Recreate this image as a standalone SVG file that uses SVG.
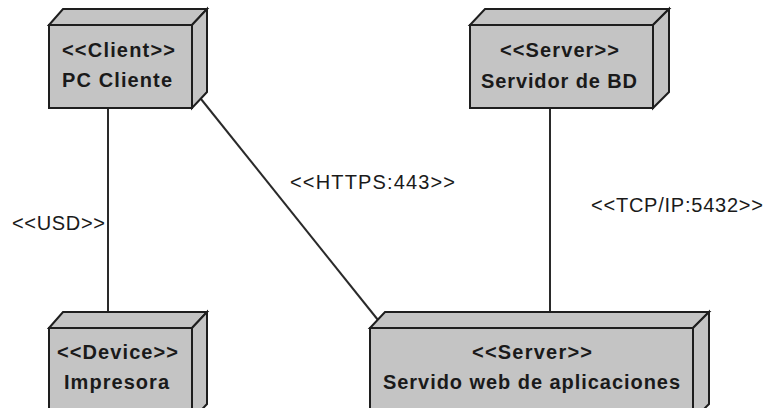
<svg xmlns="http://www.w3.org/2000/svg" width="767" height="408" viewBox="0 0 767 408">
<style>
.face{fill:#c4c4c4;stroke:#1e1e1e;stroke-width:2;stroke-linejoin:miter}
.nt{font-family:"Liberation Sans",Arial,sans-serif;font-weight:bold;font-size:20px;fill:#1a1a1a}
.lb{font-family:"Liberation Sans",Arial,sans-serif;font-size:20px;fill:#1a1a1a}
.cn{stroke:#2a2a2a;stroke-width:2;fill:none}
</style>
<rect width="767" height="408" fill="#ffffff"/>
<g id="connectors">
<line class="cn" x1="108" y1="108" x2="108" y2="312"/>
<line class="cn" x1="201" y1="99" x2="378" y2="320"/>
<line class="cn" x1="550" y1="108" x2="550" y2="312"/>
<text class="lb" x="290" y="189" textLength="165" lengthAdjust="spacing">&lt;&lt;HTTPS:443&gt;&gt;</text>
<text class="lb" x="12" y="230" textLength="93" lengthAdjust="spacing">&lt;&lt;USD&gt;&gt;</text>
<text class="lb" x="591" y="212" textLength="172" lengthAdjust="spacing">&lt;&lt;TCP/IP:5432&gt;&gt;</text>
</g>
<g id="pc-cliente">
<polygon class="face" points="49,25 63,9 207,9 192,25"/>
<polygon class="face" points="192,25 207,9 207,92 192,108"/>
<rect class="face" x="49" y="25" width="143" height="83"/>
<text class="nt" x="62" y="57" textLength="113" lengthAdjust="spacing">&lt;&lt;Client&gt;&gt;</text>
<text class="nt" x="62" y="87" textLength="110" lengthAdjust="spacing">PC Cliente</text>
</g>
<g id="servidor-bd">
<polygon class="face" points="470,25 485,9 669,9 653,25"/>
<polygon class="face" points="653,25 669,9 669,92 653,108"/>
<rect class="face" x="470" y="25" width="183" height="83"/>
<text class="nt" x="500" y="57" textLength="119" lengthAdjust="spacing">&lt;&lt;Server&gt;&gt;</text>
<text class="nt" x="481" y="88" textLength="156" lengthAdjust="spacing">Servidor de BD</text>
</g>
<g id="impresora">
<polygon class="face" points="49,328 63,312 207,312 192,328"/>
<polygon class="face" points="192,328 207,312 207,404 192,420"/>
<rect class="face" x="49" y="328" width="143" height="92"/>
<text class="nt" x="57" y="359" textLength="121" lengthAdjust="spacing">&lt;&lt;Device&gt;&gt;</text>
<text class="nt" x="64" y="389" textLength="105" lengthAdjust="spacing">Impresora</text>
</g>
<g id="servidor-web">
<polygon class="face" points="370,328 385,312 709,312 693,328"/>
<polygon class="face" points="693,328 709,312 709,404 693,420"/>
<rect class="face" x="370" y="328" width="323" height="92"/>
<text class="nt" x="472" y="359" textLength="120" lengthAdjust="spacing">&lt;&lt;Server&gt;&gt;</text>
<text class="nt" x="383" y="389" textLength="297" lengthAdjust="spacing">Servido web de aplicaciones</text>
</g>
</svg>
